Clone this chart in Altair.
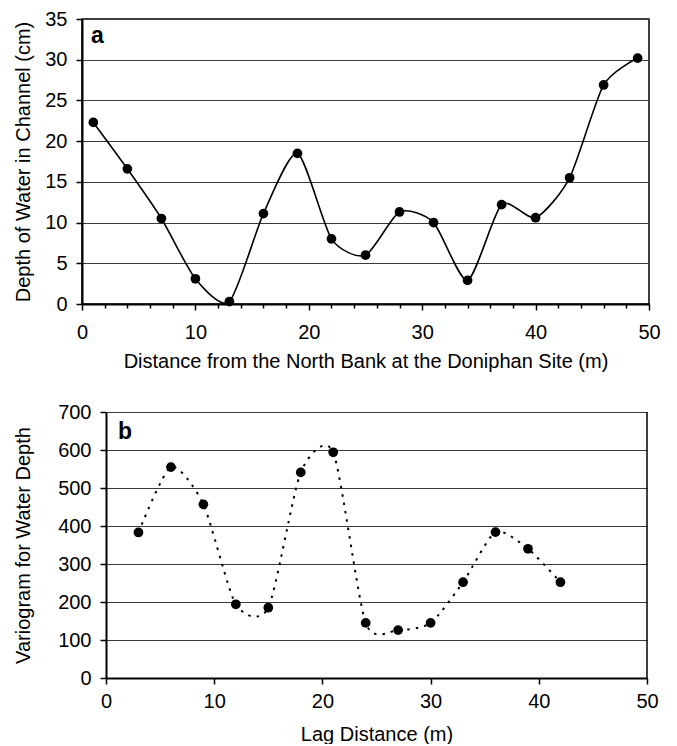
import altair as alt
import pandas as pd

# Panel a: depth of water across the channel
dist_a = [1, 4, 7, 10, 13, 16, 19, 22, 25, 28, 31, 34, 37, 40, 43, 46, 49]
depth_a = [22.3, 16.6, 10.5, 3.1, 0.3, 11.1, 18.5, 8.0, 6.0, 11.3, 10.0, 2.9, 12.2, 10.6, 15.5, 26.9, 30.2]

# Panel b: variogram
lag_b = [3, 6, 9, 12, 15, 18, 21, 24, 27, 30, 33, 36, 39, 42]
vario_b = [383, 555, 457, 194, 185, 541, 594, 145, 126, 145, 252, 384, 340, 252]

ticks_a_y = [0, 5, 10, 15, 20, 25, 30, 35]
ticks_a_x = list(range(0, 51, 2))
ticks_b_y = [0, 100, 200, 300, 400, 500, 600, 700]
ticks_b_x = [0, 10, 20, 30, 40, 50]

FONT = "Liberation Sans"
FS = 20
GRID = "#3a3a3a"
TENSION = 0.3
SHIFT_B = 24  # panel b's plot starts further right than panel a's

df_a = pd.DataFrame({"x": dist_a, "y": depth_a})
df_b = pd.DataFrame({"x": lag_b, "y": vario_b})

common_axis = dict(
    labelFont=FONT, titleFont=FONT, labelFontSize=FS, titleFontSize=FS,
    labelColor="black", titleColor="black", titleFontWeight="normal",
    domainColor="black", domainWidth=2, tickColor="black", tickWidth=1.5,
    labelFlush=False,
)

# ---- panel a ----
xa = alt.X(
    "x:Q",
    scale=alt.Scale(domain=[0, 50], nice=False, zero=False),
    axis=alt.Axis(
        title="Distance from the North Bank at the Doniphan Site (m)",
        values=ticks_a_x,
        labelExpr="datum.value % 10 === 0 ? datum.label : ''",
        labelOverlap=False,
        grid=False,
        tickSize={"condition": {"test": "datum.value % 10 === 0", "value": 6}, "value": 4},
        labelPadding=12, titlePadding=9,
        **common_axis,
    ),
)
ya = alt.Y(
    "y:Q",
    scale=alt.Scale(domain=[0, 35], nice=False),
    axis=alt.Axis(
        title="Depth of Water in Channel (cm)",
        values=ticks_a_y,
        grid=True, gridColor=GRID, gridWidth=1.2, gridOpacity=1,
        tickSize=6, labelPadding=9, titlePadding=11,
        **common_axis,
    ),
)

base_a = alt.Chart(df_a).encode(x=xa, y=ya)
line_a = base_a.mark_line(interpolate="cardinal", tension=TENSION, color="black",
                          strokeWidth=1.6, clip=True)
pts_a = base_a.mark_circle(color="black", opacity=1, size=95)
lab_a = alt.Chart(pd.DataFrame({"t": ["a"]})).mark_text(
    font=FONT, fontSize=23, fontWeight="bold", align="left", baseline="alphabetic", color="black"
).encode(text="t:N", x=alt.value(9), y=alt.value(24))

panel_a = alt.layer(line_a, pts_a, lab_a).properties(width=567, height=285)

# ---- panel b ----
WB = 541
xb = alt.X(
    "x:Q",
    scale=alt.Scale(domain=[0, 50], nice=False, zero=False, range=[SHIFT_B, SHIFT_B + WB]),
    axis=alt.Axis(
        title="Lag Distance (m)",
        values=ticks_b_x,
        grid=False,
        tickSize=6, labelPadding=7, titlePadding=13,
        **common_axis,
    ),
)
yb = alt.Y(
    "y:Q",
    scale=alt.Scale(domain=[0, 700], nice=False),
    axis=alt.Axis(
        title="Variogram for Water Depth",
        values=ticks_b_y,
        grid=True, gridColor=GRID, gridWidth=1.2, gridOpacity=1,
        offset=-SHIFT_B,
        tickSize=6, labelPadding=9, titlePadding=24,
        **common_axis,
    ),
)

base_b = alt.Chart(df_b).encode(x=xb, y=yb)
frame_b = alt.Chart(pd.DataFrame({"x": [50], "y": [0], "y2": [700]})).mark_rule(
    color="black", strokeWidth=1.5
).encode(x=xb, y=yb, y2="y2:Q")
line_b = base_b.mark_line(interpolate="cardinal", tension=TENSION, color="black", strokeWidth=2,
                          strokeDash=[2.5, 6], clip=True)
pts_b = base_b.mark_circle(color="black", opacity=1, size=95)
lab_b = alt.Chart(pd.DataFrame({"t": ["b"]})).mark_text(
    font=FONT, fontSize=23, fontWeight="bold", align="left", baseline="alphabetic", color="black"
).encode(text="t:N", x=alt.value(SHIFT_B + 12), y=alt.value(27))

panel_b = alt.layer(frame_b, line_b, pts_b, lab_b).properties(
    width=WB + SHIFT_B, height=266, view=alt.ViewConfig(strokeOpacity=0)
)

chart = (
    alt.vconcat(panel_a, panel_b, spacing=30)
    .properties(padding={"left": 5, "top": 0, "right": 5, "bottom": 0}, background="white")
    .configure_view(stroke="black", strokeWidth=1.5)
)

chart.save("out.html", embed_options={"renderer": "svg", "actions": False})
